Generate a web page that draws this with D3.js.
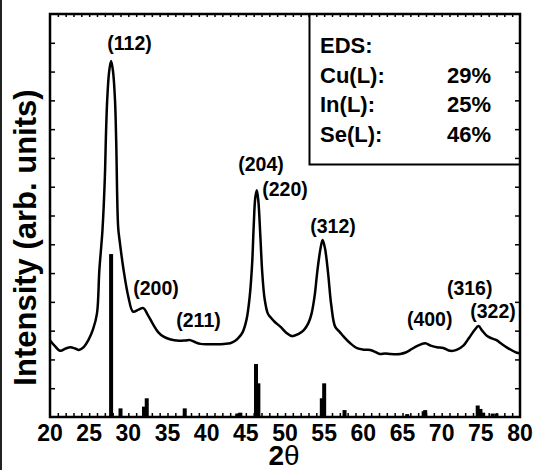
<!DOCTYPE html>
<html>
<head>
<meta charset="utf-8">
<script src="https://cdn.jsdelivr.net/npm/d3@7"></script>
<style>
  body { margin: 0; background: #fff; }
  text { font-family: "Liberation Sans", Arial, sans-serif; font-weight: bold; fill: #000; }
</style>
</head>
<body>
<div id="canvas"></div>
<script>
// data
const twoTheta = [20.0, 20.6, 21.3, 22.0, 22.6, 23.2, 23.7, 24.3, 24.9, 25.5, 26.0, 26.3, 26.7, 27.0, 27.15, 27.3, 27.55, 27.8,
    28.05, 28.3, 28.45, 28.7, 28.9, 29.4, 30.0, 30.6, 31.3, 31.9, 32.5, 33.2, 33.8, 34.5, 35.3, 36.5, 37.3, 37.9, 38.6, 39.2,
    40.3, 41.3, 42.2, 43.0, 43.6, 44.0, 44.6, 45.1, 45.5, 45.8, 46.0, 46.2, 46.4, 46.6, 46.85, 47.1, 47.4, 47.8, 48.1, 48.7,
    49.4, 50.2, 50.9, 51.7, 52.4, 53.0, 53.4, 53.8, 54.1, 54.5, 54.8, 55.1, 55.5, 55.9, 56.4, 57.0, 57.5, 58.3, 59.2, 60.0,
    60.9, 61.5, 62.1, 62.8, 63.5, 64.7, 65.4, 66.0, 66.9, 67.9, 68.6, 69.4, 70.2, 71.1, 71.9, 72.8, 73.3, 73.6, 74.2, 74.7,
    75.2, 75.8, 76.4, 77.0, 77.6, 78.3, 79.0, 79.6, 80.0];
const intensity = [2.67, 2.47, 2.30, 2.38, 2.42, 2.38, 2.33, 2.43, 2.67, 3.05, 3.6, 5.1, 6.5, 8.3, 9.86, 11.0, 12.0, 12.37,
    12.0, 11.0, 9.6, 6.6, 6.1, 5.1, 4.18, 3.66, 3.73, 3.78, 3.54, 3.20, 2.95, 2.79, 2.70, 2.65, 2.66, 2.67, 2.59, 2.54,
    2.53, 2.53, 2.54, 2.56, 2.64, 2.73, 2.95, 3.4, 4.2, 5.3, 6.6, 7.6, 7.88, 7.5, 6.3, 5.0, 4.1, 3.6, 3.48, 3.30,
    3.14, 2.92, 2.81, 2.88, 3.02, 3.27, 3.60, 4.24, 5.0, 5.8, 6.15, 5.87, 5.0, 3.9, 3.14, 2.95, 2.79, 2.57, 2.39, 2.34,
    2.33, 2.26, 2.19, 2.21, 2.19, 2.19, 2.24, 2.33, 2.47, 2.56, 2.48, 2.42, 2.40, 2.30, 2.33, 2.49, 2.67, 2.79, 3.02, 3.16,
    2.99, 2.81, 2.73, 2.67, 2.55, 2.42, 2.31, 2.23, 2.21];

// reference pattern sticks
const stickPos = [27.8, 29.0, 32.0, 32.35, 37.2, 43.9, 44.3, 46.3, 46.6, 54.7, 55.0, 57.6, 65.6, 67.7, 67.9, 74.6, 74.95, 75.3, 76.5, 77.0];
const stickVal = [5.66, 0.3, 0.36, 0.65, 0.3, 0.12, 0.15, 1.84, 1.17, 0.65, 1.17, 0.24, 0.1, 0.2, 0.24, 0.4, 0.28, 0.15, 0.12, 0.12];

// peak labels (centre and baseline, in data units)
const peakNames = ['(112)', '(200)', '(211)', '(204)', '(220)', '(312)', '(400)', '(316)', '(322)'];
const peakX = [30.15, 33.53, 38.96, 46.94, 50.0, 56.13, 68.47, 73.58, 76.56];
const peakY = [12.75, 4.24, 3.13, 8.54, 7.68, 6.39, 3.16, 4.24, 3.44];

const edsNames = ['Cu(L):', 'In(L):', 'Se(L):'];
const edsValues = ['29%', '25%', '46%'];

const xTicks = d3.range(20, 81, 5);

// layout
const width = 536;
const height = 470;
const mLeft = 50, mRight = 520, mTop = 14, mBottom = 417;

const svg = d3.select('#canvas')
    .append('svg').attr('width', width).attr('height', height);

const x = d3.scaleLinear().domain([20, 80]).range([mLeft, mRight]);
const y = d3.scaleLinear().domain([0, 14]).range([mBottom, mTop]);

// image border on the left
svg.append('line')
    .attr('x1', 1).attr('x2', 1).attr('y1', 0).attr('y2', height)
    .attr('stroke', '#222').attr('stroke-width', 2);

// minor ticks
const tickStyle = g => {
    g.select('.domain').remove();
    g.selectAll('line').attr('stroke', '#000').attr('stroke-width', 1.5);
};
svg.append('g')
    .attr('transform', `translate(0,${mBottom})`)
    .call(d3.axisBottom(x).tickValues(d3.range(21, 80, 1)).tickSize(-4).tickFormat(''))
    .call(tickStyle);
svg.append('g')
    .attr('transform', `translate(0,${mTop})`)
    .call(d3.axisTop(x).tickValues(d3.range(21, 80, 1)).tickSize(-3).tickFormat(''))
    .call(tickStyle);
svg.append('g')
    .attr('transform', `translate(${mLeft},0)`)
    .call(d3.axisLeft(y).tickValues(d3.range(1, 14)).tickSize(-5).tickFormat(''))
    .call(tickStyle);
svg.append('g')
    .attr('transform', `translate(${mRight},0)`)
    .call(d3.axisRight(y).tickValues(d3.range(1, 14)).tickSize(-5).tickFormat(''))
    .call(tickStyle);

// x tick labels
svg.append('g')
    .selectAll('text')
    .data(xTicks)
    .join('text')
    .attr('x', d => x(d))
    .attr('y', 441)
    .attr('text-anchor', 'middle')
    .style('font-size', '23px')
    .text(d => d);

// sticks
svg.append('g')
    .selectAll('rect')
    .data(stickPos)
    .join('rect')
    .attr('x', d => x(d) - 2)
    .attr('y', (d, i) => y(stickVal[i]))
    .attr('width', 4)
    .attr('height', (d, i) => y(0) - y(stickVal[i]))
    .attr('fill', '#000');

// XRD curve
const line = d3.line()
    .x(d => x(d[0]))
    .y(d => y(d[1]))
    .curve(d3.curveCatmullRom.alpha(0.5));

svg.append('path')
    .datum(twoTheta.map((d, i) => [d, intensity[i]]))
    .attr('d', line)
    .attr('fill', 'none')
    .attr('stroke', '#000')
    .attr('stroke-width', 2.5);

// peak labels
svg.append('g')
    .selectAll('text')
    .data(peakNames)
    .join('text')
    .attr('x', (d, i) => x(peakX[i]))
    .attr('y', (d, i) => y(peakY[i]))
    .attr('text-anchor', 'middle')
    .style('font-size', '19.5px')
    .text(d => d);

// EDS box
svg.append('path')
    .attr('d', `M309.5,${mTop} V164.5 H${mRight}`)
    .attr('fill', 'none')
    .attr('stroke', '#000')
    .attr('stroke-width', 2);

svg.append('text')
    .attr('x', 320).attr('y', 53)
    .style('font-size', '22px')
    .text('EDS:');
svg.append('g')
    .selectAll('text')
    .data(edsNames)
    .join('text')
    .attr('x', 320)
    .attr('y', (d, i) => 83 + i * 29.3)
    .style('font-size', '22px')
    .text(d => d);
svg.append('g')
    .selectAll('text')
    .data(edsValues)
    .join('text')
    .attr('x', 491)
    .attr('y', (d, i) => 83 + i * 29.3)
    .attr('text-anchor', 'end')
    .style('font-size', '22px')
    .text(d => d);

// frame
svg.append('rect')
    .attr('x', mLeft).attr('y', mTop)
    .attr('width', mRight - mLeft).attr('height', mBottom - mTop)
    .attr('fill', 'none')
    .attr('stroke', '#000')
    .attr('stroke-width', 2.5);

// axis titles
svg.append('text')
    .attr('transform', `translate(36,${(88 + 387) / 2}) rotate(-90)`)
    .attr('text-anchor', 'middle')
    .style('font-size', '31px')
    .text('Intensity (arb. units)');

const xTitle = svg.append('text')
    .attr('x', 284).attr('y', 465)
    .attr('text-anchor', 'middle')
    .style('font-size', '28px');
xTitle.append('tspan').text('2');
xTitle.append('tspan').style('font-weight', 'normal').text('\u03b8');
</script>
</body>
</html>
